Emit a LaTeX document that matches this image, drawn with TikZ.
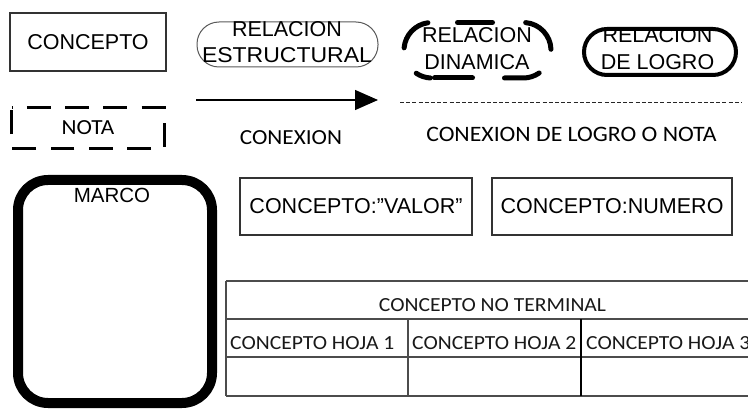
\documentclass[tikz,border=0pt]{standalone}
\usepackage{fontspec}
\usepackage{graphicx}
\setmainfont{Liberation Sans}
\newfontfamily\calfont[FakeStretch=1.08]{Carlito}
\usetikzlibrary{arrows.meta}
\begin{document}
\begin{tikzpicture}[x=1pt,y=-1pt,
  arial/.style={font=\fontsize{21.5}{27}\selectfont},
  cal/.style={font=\calfont\fontsize{21.5}{26}\selectfont},
  calsmall/.style={font=\calfont\fontsize{20}{24}\selectfont, text=black!90},
  cbox/.style={draw=black!80, line width=1.2pt, inner sep=0pt, arial},
  stadium/.style={draw, inner sep=0pt, rounded corners=#1},
  tline/.style={draw=black!70, line width=1.2pt},
  dashpiece/.style={line width=5pt, line cap=round},
]
\useasboundingbox (0,0) rectangle (748,409);

% CONCEPTO
\node[cbox, minimum width=156pt, minimum height=58pt] (concepto) at (88,42) {CONCEPTO};

% RELACION ESTRUCTURAL
\node[stadium=22pt, draw=black!65, line width=1pt, minimum width=181pt, minimum height=45pt] (estr) at (287.5,44.5) {};
\node[align=center, font=\fontsize{21.5}{26}\selectfont] (estrtxt) at (287,42.3) {RELACION\\\scalebox{1.07}[1]{ESTRUCTURAL}};

% RELACION DINAMICA (dashed thick stadium, drawn piece by piece)
\node[arial, align=center] (dinatxt) at (477,48.8) {RELACION\\DINAMICA};
\draw[dashpiece] (404.11,47.83) arc[start angle=175, end angle=98, radius=27.75pt];
\draw[dashpiece] (457.5,22.5) -- (492.5,22.5);
\draw[dashpiece] (525.67,22.61) arc[start angle=85, end angle=2, radius=27.75pt];
\draw[dashpiece] (539.17,72.98) arc[start angle=-55, end angle=-90, radius=27.75pt] -- (504.5,78);
\draw[dashpiece] (472.5,78) -- (434.5,78);
\draw[dashpiece] (430.3,77.96) arc[start angle=-93, end angle=-124, radius=27.75pt];

% RELACION DE LOGRO
\node[stadium=23pt, line width=4pt, minimum width=152pt, minimum height=46pt] (logro) at (660,52) {};
\node[arial, align=center] (logrotxt) at (657.5,48.8) {RELACION\\DE LOGRO};

% NOTA
\node[inner sep=0pt, minimum width=152pt, minimum height=40.5pt, cal] (nota) at (88,127.75) {NOTA};
\draw[line width=3pt, dash pattern=on 23.8pt off 14.5pt, dash phase=23.3pt]
  (nota.north west) -- (nota.north east) -- (nota.south east) -- (nota.south west) -- cycle;

% CONEXION
\coordinate (a1) at (196,100);
\coordinate (a2) at (378,100);
\draw[-{Triangle[length=23pt,width=20pt]}, line width=1.3pt] (a1) -- (a2);
\node[cal, anchor=base] (conex) at (291,145) {CONEXION};

% CONEXION DE LOGRO O NOTA
\coordinate (d1) at (400,103);
\coordinate (d2) at (742,103);
\draw[black!85, line width=1pt, dash pattern=on 4pt off 2.2pt] (d1) -- (d2);
\node[font=\calfont\fontsize{22}{26}\selectfont, anchor=base] (conexlogro) at (571.5,141.5) {CONEXION DE LOGRO O NOTA};

% MARCO
\node[draw, line width=10pt, rounded corners=30pt, minimum width=194pt, minimum height=223pt, inner sep=0pt] (marco) at (115,291.5) {};
\node[font=\fontsize{20.5}{24}\selectfont, anchor=base] (marcotxt) at (112,203) {MARCO};

% CONCEPTO:VALOR / NUMERO
\node[cbox, minimum width=232pt, minimum height=57pt] (valor) at (356,206.5) {CONCEPTO:”VALOR”};
\node[cbox, minimum width=240pt, minimum height=57pt] (numero) at (612,206.5) {CONCEPTO:NUMERO};

% TABLE
\coordinate (tl) at (226,281);
\coordinate (tr) at (760,281);
\coordinate (r1l) at (226,319);
\coordinate (r1r) at (760,319);
\coordinate (r2l) at (226,357);
\coordinate (r2r) at (760,357);
\coordinate (bl) at (226,396);
\coordinate (br) at (760,396);
\coordinate (c1t) at (408,319);
\coordinate (c1b) at (408,396);
\coordinate (c2t) at (581,319);
\coordinate (c2b) at (581,396);
\draw[tline, line width=2pt] (tl) -- (tr);
\draw[tline] (tl) -- (bl);
\draw[tline] (r1l) -- (r1r);
\draw[tline] (r2l) -- (r2r);
\draw[tline, line width=1.6pt] (bl) -- (br);
\draw[tline] (c1t) -- (c1b);
\draw[black, line width=2.2pt] (c2t) -- (c2b);
\node[calsmall, anchor=base] (hdr) at (492.5,311) {CONCEPTO NO TERMINAL};
\node[calsmall, anchor=base west, inner sep=0pt] (h1) at (230,349) {CONCEPTO HOJA 1};
\node[calsmall, anchor=base west, inner sep=0pt] (h2) at (412,349) {CONCEPTO HOJA 2};
\node[calsmall, anchor=base west, inner sep=0pt] (h3) at (586,349) {CONCEPTO HOJA 3};
\end{tikzpicture}
\end{document}
